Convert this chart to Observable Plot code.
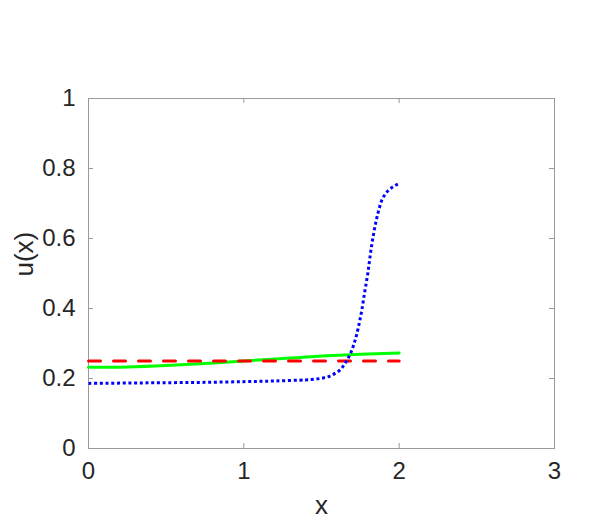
<!DOCTYPE html>
<html>
<head>
<meta charset="utf-8">
<script src="https://cdn.jsdelivr.net/npm/d3@7"></script>
<script src="https://cdn.jsdelivr.net/npm/@observablehq/plot@0.6"></script>
<style>
  html, body { margin: 0; padding: 0; background: #fff; }
  svg { display: block; }
</style>
</head>
<body>
<div id="chart"></div>
<script>
const xTicks = [0, 1, 2, 3];
const yTicks = [0, 0.2, 0.4, 0.6, 0.8, 1];

const redX = [0, 2];
const redY = [0.25, 0.25];

const greenX = [0, 0.25, 0.5, 0.75, 1.0, 1.25, 1.5, 1.75, 2.0];
const greenY = [0.232, 0.233, 0.237, 0.243, 0.250, 0.257, 0.264, 0.269, 0.273];

const blueX = [0, 0.25, 0.5, 0.75, 1.0, 1.2, 1.395, 1.436, 1.476, 1.515, 1.554, 1.590, 1.622, 1.648, 1.669, 1.687, 1.702, 1.714, 1.725, 1.743, 1.759, 1.772, 1.785, 1.798, 1.809, 1.820, 1.833, 1.848, 1.867, 1.891, 1.925, 1.955, 1.98, 2.0];
const blueY = [0.186, 0.187, 0.188, 0.189, 0.191, 0.193, 0.196, 0.197, 0.199, 0.202, 0.207, 0.2155, 0.225, 0.241, 0.256, 0.272, 0.289, 0.306, 0.323, 0.358, 0.394, 0.430, 0.465, 0.500, 0.536, 0.572, 0.607, 0.643, 0.678, 0.712, 0.735, 0.746, 0.753, 0.757];

const W = 598, H = 531;
const mL = 88, mR = 44, mT = 98, mB = 83;
const fw = W - mL - mR, fh = H - mT - mB;
const axisColor = "#9a9a9a";
const textColor = "#262626";
const font = "'Liberation Sans', Arial, Helvetica, sans-serif";

const red = redX.map((x, i) => ({x, y: redY[i]}));
const green = greenX.map((x, i) => ({x, y: greenY[i]}));
const blue = blueX.map((x, i) => ({x, y: blueY[i]}));

const chart = Plot.plot({
  width: W,
  height: H,
  marginLeft: mL,
  marginRight: mR,
  marginTop: mT,
  marginBottom: mB,
  style: {fontFamily: font, color: textColor, background: "#fff", overflow: "visible"},
  x: {domain: [0, 3], axis: null},
  y: {domain: [0, 1], axis: null},
  marks: [
    Plot.axisX({ticks: xTicks, label: null, tickSize: 0, tickPadding: 13, fontSize: 24, tickFormat: d => String(d), fill: textColor}),
    Plot.axisY({ticks: yTicks, label: null, tickSize: 0, tickPadding: 13, fontSize: 24, tickFormat: d => String(d), fill: textColor}),
    Plot.tickX(xTicks, {x: d => d, insetTop: fh - 5, stroke: axisColor}),
    Plot.tickX(xTicks, {x: d => d, insetBottom: fh - 5, stroke: axisColor}),
    Plot.tickY(yTicks, {y: d => d, insetRight: fw - 5, stroke: axisColor}),
    Plot.tickY(yTicks, {y: d => d, insetLeft: fw - 5, stroke: axisColor}),
    Plot.frame({stroke: axisColor, strokeWidth: 1}),
    Plot.line(green, {x: "x", y: "y", stroke: "#00ff00", strokeWidth: 3, curve: "catmull-rom"}),
    Plot.line(red, {x: "x", y: "y", stroke: "#ff0000", strokeWidth: 3, strokeDasharray: "12,13"}),
    Plot.line(blue, {x: "x", y: "y", stroke: "#0000ff", strokeWidth: 3, strokeDasharray: "3,2.7", strokeLinecap: "butt", strokeLinejoin: "miter", curve: "catmull-rom"}),
    Plot.text(["x"], {frameAnchor: "bottom", dy: 57, fontSize: 26, lineAnchor: "middle", fill: textColor}),
    Plot.text(["u(x)"], {frameAnchor: "left", dx: -64, dy: 3, rotate: -90, fontSize: 26, lineAnchor: "middle", fill: textColor})
  ]
});
document.getElementById("chart").appendChild(chart);
</script>
</body>
</html>
